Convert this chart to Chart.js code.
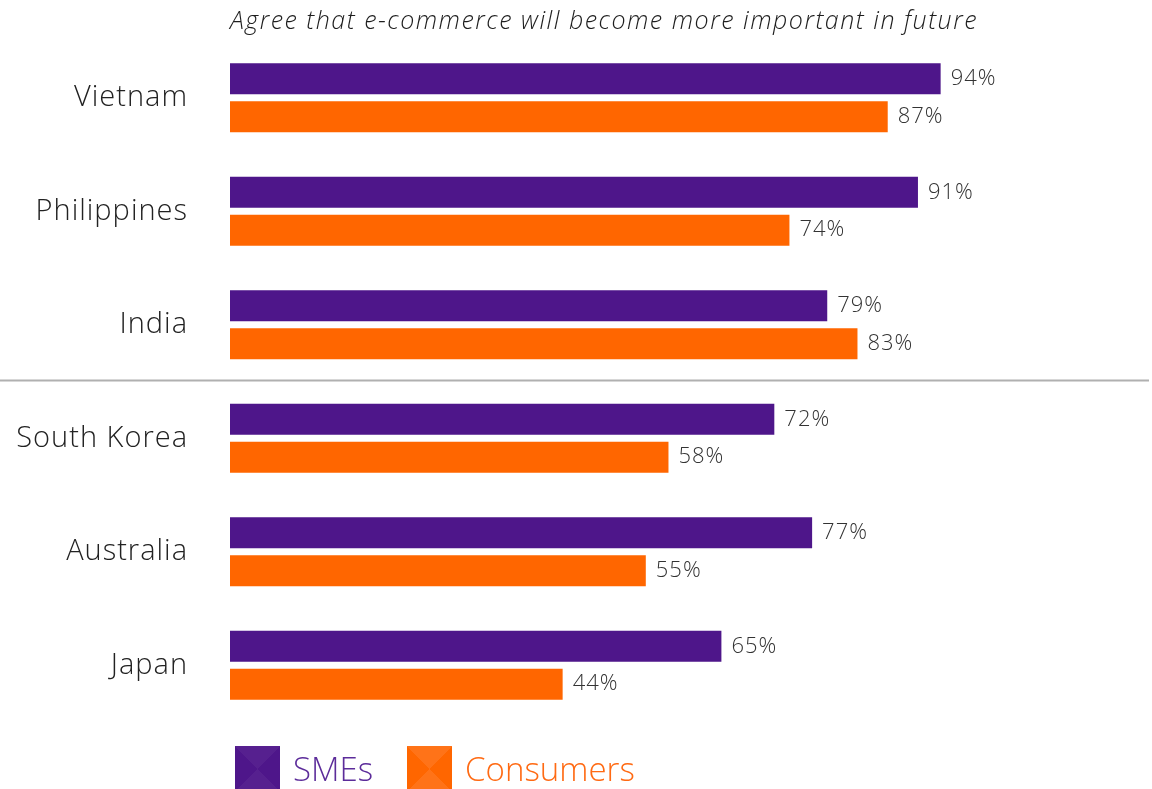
<!DOCTYPE html>
<html lang="en">
<head>
    <meta charset="UTF-8">
    <title>E-commerce importance</title>
    <script src="https://cdn.jsdelivr.net/npm/chart.js"></script>
    <style>
        html, body { margin: 0; padding: 0; background: #fff; overflow: hidden; }
        #wrap { position: relative; width: 1152px; height: 789px; }
        .legend { position: absolute; top: 746px; left: 235px; display: flex; align-items: center;
                  font-family: "Open Sans", sans-serif; font-weight: 300; font-size: 33px; }
        .legend span.box { display: inline-block; width: 45px; height: 45px; margin-right: 13px; }
        .legend .item { display: flex; align-items: center; margin-right: 34px; }
    </style>
</head>
<body>
<div id="wrap">
    <canvas id="chart" width="1152" height="789"></canvas>
    <div class="legend" id="legend"></div>
</div>
<script>
    // Share agreeing that e-commerce will matter more in future
    const countries = ['Vietnam', 'Philippines', 'India', 'South Korea', 'Australia', 'Japan'];
    const smes = [94, 91, 79, 72, 77, 65];
    const consumers = [87, 74, 83, 58, 55, 44];
    const seriesNames = ['SMEs', 'Consumers'];

    const purple = '#4e168a';
    const orange = '#ff6600';

    // slightly wider letter spacing for the axis labels
    const spacing = {
        id: 'spacing',
        beforeDraw(chart) { chart.ctx.letterSpacing = '1px'; }
    };

    // Value labels at the end of each bar, title and divider line
    const extras = {
        id: 'extras',
        afterDatasetsDraw(chart) {
            const ctx = chart.ctx;
            ctx.save();
            ctx.letterSpacing = '1px';
            ctx.font = '300 22px "Open Sans", sans-serif';
            ctx.fillStyle = '#333';
            ctx.textBaseline = 'middle';
            ctx.textAlign = 'left';
            chart.data.datasets.forEach((ds, i) => {
                chart.getDatasetMeta(i).data.forEach((bar, j) => {
                    ctx.fillText(ds.data[j] + '%', bar.x + 10, bar.y);
                });
            });

            // divider between India and South Korea
            const y = chart.scales.y;
            const mid = (y.getPixelForValue(2) + y.getPixelForValue(3)) / 2 - 1;
            ctx.strokeStyle = '#b0b0b0';
            ctx.lineWidth = 2;
            ctx.beginPath();
            ctx.moveTo(0, mid);
            ctx.lineTo(1149, mid);
            ctx.stroke();

            ctx.letterSpacing = '1.5px';
            ctx.font = 'italic 300 25px "Open Sans", sans-serif';
            ctx.fillStyle = '#1e1e1e';
            ctx.textBaseline = 'alphabetic';
            ctx.fillText('Agree that e-commerce will become more important in future', chart.chartArea.left, 29);
            ctx.restore();
        }
    };

    new Chart(document.getElementById('chart'), {
        type: 'bar',
        data: {
            labels: countries,
            datasets: [
                { label: seriesNames[0], data: smes, backgroundColor: purple },
                { label: seriesNames[1], data: consumers, backgroundColor: orange }
            ]
        },
        options: {
            indexAxis: 'y',
            responsive: false,
            animation: false,
            layout: { padding: { top: 41, bottom: 67, right: 166, left: 0 } },
            datasets: { bar: { categoryPercentage: 0.669, barPercentage: 0.816 } },
            plugins: {
                legend: { display: false },
                tooltip: { enabled: false }
            },
            scales: {
                x: { display: false, min: 0, max: 100 },
                y: {
                    grid: { display: false, drawTicks: false },
                    border: { display: false },
                    afterFit(scale) {
                        // fixed gutter; the tick padding should not push the plot down
                        scale.width = 230;
                        scale.paddingTop = 0;
                        scale.paddingBottom = 0;
                    },
                    ticks: {
                        padding: 42,
                        color: '#222',
                        font: { family: '"Open Sans", sans-serif', weight: 300, size: 29 }
                    }
                }
            }
        },
        plugins: [spacing, extras]
    });

    // legend squares with the faint pyramid shading
    const legendEl = document.getElementById('legend');
    [[seriesNames[0], purple, '#56208f', '#5c2c9a'], [seriesNames[1], orange, '#ff7318', '#ff6a13']].forEach(([name, c, light, text]) => {
        const item = document.createElement('div');
        item.className = 'item';
        const box = document.createElement('span');
        box.className = 'box';
        box.style.background = `conic-gradient(from -45deg, ${light} 0deg 90deg, ${c} 90deg 180deg, ${light} 180deg 270deg, ${c} 270deg 360deg)`;
        const label = document.createElement('span');
        label.textContent = name;
        label.style.color = text;
        item.appendChild(box);
        item.appendChild(label);
        legendEl.appendChild(item);
    });
</script>
</body>
</html>
